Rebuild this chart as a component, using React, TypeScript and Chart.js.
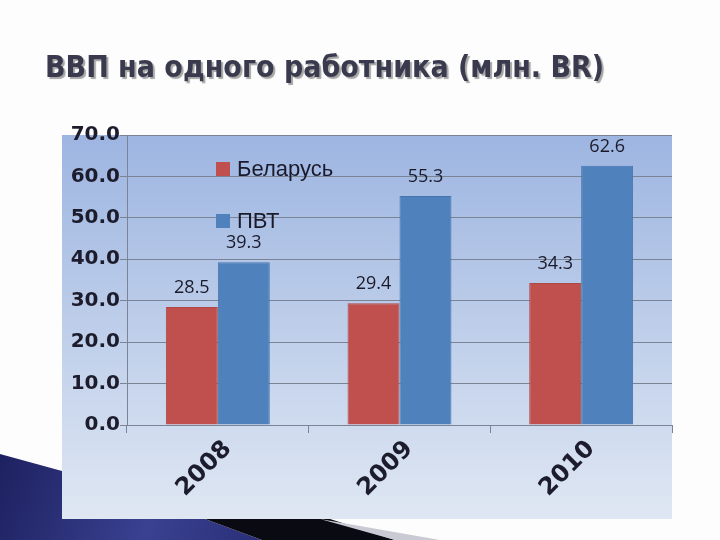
import React, { useEffect, useRef } from "react";
import { Chart, registerables } from "chart.js";

Chart.register(...registerables);

const titleText = "ВВП на одного работника (млн. BR)";
const categories = ["2008", "2009", "2010"];
const seriesNames = ["Беларусь", "ПВТ"];
const belarusValues = [28.5, 29.4, 34.3];
const pvtValues = [39.3, 55.3, 62.6];
const seriesColors = ["#C0504D", "#4F81BD"];
const yMin = 0;
const yMax = 70;
const yStep = 10;

const backgroundPlugin = {
  id: "slideBackground",
  beforeDraw(chart: any) {
    const { ctx, chartArea: a, width, height } = chart;
    ctx.save();
    ctx.fillStyle = "#FDFDFD";
    ctx.fillRect(0, 0, width, height);

    // decorative slide shapes (bottom-left)
    const navy = ctx.createLinearGradient(0, 450, 260, 540);
    navy.addColorStop(0, "#1D2160");
    navy.addColorStop(0.6, "#3A4190");
    navy.addColorStop(1, "#2A2F78");
    ctx.fillStyle = navy;
    ctx.beginPath();
    ctx.moveTo(0, 454);
    ctx.lineTo(62, 471);
    ctx.lineTo(205, 519);
    ctx.lineTo(262, 540);
    ctx.lineTo(0, 540);
    ctx.closePath();
    ctx.fill();

    ctx.fillStyle = "#0A0A12";
    ctx.beginPath();
    ctx.moveTo(150, 480);
    ctx.lineTo(330, 519);
    ctx.lineTo(395, 540);
    ctx.lineTo(262, 540);
    ctx.lineTo(205, 519);
    ctx.closePath();
    ctx.fill();

    ctx.fillStyle = "#C9CAD3";
    ctx.beginPath();
    ctx.moveTo(320, 519);
    ctx.lineTo(440, 540);
    ctx.lineTo(395, 540);
    ctx.closePath();
    ctx.fill();

    // chart box
    const boxLeft = a.left - 65;
    const boxTop = a.top;
    const boxRight = a.right;
    const boxBottom = a.bottom + 94;
    const g = ctx.createLinearGradient(0, boxTop, 0, boxBottom);
    g.addColorStop(0, "#9DB5E1");
    g.addColorStop(1, "#DFE7F3");
    ctx.fillStyle = g;
    ctx.fillRect(boxLeft, boxTop, boxRight - boxLeft, boxBottom - boxTop);
    ctx.restore();
  },
};

const labelsPlugin = {
  id: "valueLabels",
  afterDatasetsDraw(chart: any) {
    const { ctx } = chart;
    ctx.save();
    ctx.font = "18px 'Open Sans'";
    ctx.fillStyle = "#1A1A2A";
    ctx.textAlign = "center";
    ctx.textBaseline = "middle";
    chart.data.datasets.forEach((ds: any, i: number) => {
      const meta = chart.getDatasetMeta(i);
      meta.data.forEach((el: any, j: number) => {
        ctx.fillText(Number(ds.data[j]).toFixed(1), el.x, el.y - 19);
      });
    });
    ctx.restore();
  },
};

const legendPlugin = {
  id: "insideLegend",
  afterDraw(chart: any) {
    const { ctx, chartArea: a } = chart;
    ctx.save();
    ctx.font = "22px 'Liberation Sans'";
    ctx.textBaseline = "middle";
    ctx.textAlign = "left";
    chart.data.datasets.forEach((ds: any, i: number) => {
      const top = a.top + 27 + i * 52;
      ctx.fillStyle = ds.backgroundColor;
      ctx.fillRect(a.left + 89, top, 14, 14);
      ctx.fillStyle = "#1A1A2A";
      ctx.fillText(ds.label, a.left + 110, top + 8);
    });
    ctx.restore();
  },
};

export default function App() {
  const canvasRef = useRef<HTMLCanvasElement | null>(null);

  useEffect(() => {
    if (!canvasRef.current) return;
    const chart = new Chart(canvasRef.current, {
      type: "bar",
      data: {
        labels: categories,
        datasets: [
          {
            label: seriesNames[0],
            data: belarusValues,
            backgroundColor: seriesColors[0],
            borderColor: "#B04845",
            borderWidth: 1,
            categoryPercentage: 0.572,
            barPercentage: 1,
          },
          {
            label: seriesNames[1],
            data: pvtValues,
            backgroundColor: seriesColors[1],
            borderColor: "#4575AE",
            borderWidth: 1,
            categoryPercentage: 0.572,
            barPercentage: 1,
          },
        ],
      },
      options: {
        animation: false,
        responsive: false,
        maintainAspectRatio: false,
        layout: { padding: { left: 0, right: 48, top: 135, bottom: 0 } },
        plugins: {
          legend: { display: false },
          title: { display: false },
          tooltip: { enabled: false },
        },
        scales: {
          x: {
            afterFit(scale: any) {
              scale.height = 115;
            },
            grid: {
              display: true,
              drawOnChartArea: false,
              drawTicks: true,
              tickLength: 8,
              color: "#7A8494",
              offset: true,
            },
            border: { display: true, color: "#7A8494", width: 1 },
            ticks: {
              minRotation: 45,
              maxRotation: 45,
              padding: 2,
              labelOffset: 10,
              color: "#1C1C2C",
              font: { family: "'DejaVu Sans'", size: 24, weight: "bold" },
            },
          },
          y: {
            min: yMin,
            max: yMax,
            afterFit(scale: any) {
              scale.width = 127;
            },
            grid: {
              color: "#7A8494",
              tickLength: 7,
              drawTicks: true,
            },
            border: { display: true, color: "#7A8494", width: 1 },
            ticks: {
              stepSize: yStep,
              padding: 0,
              color: "#1C1C2C",
              font: { family: "'DejaVu Sans'", size: 20, weight: "bold" },
              callback: (v: any) => Number(v).toFixed(1),
            },
          },
        },
      },
      plugins: [backgroundPlugin, labelsPlugin, legendPlugin],
    });
    return () => chart.destroy();
  }, []);

  return (
    <div
      style={{
        position: "fixed",
        left: 0,
        top: 0,
        width: 720,
        height: 540,
        overflow: "hidden",
        background: "#FDFDFD",
      }}
    >
      <canvas
        ref={canvasRef}
        width={720}
        height={540}
        style={{ position: "absolute", left: 0, top: 0, width: 720, height: 540 }}
      />
      <div
        style={{
          position: "absolute",
          left: 45,
          top: 52,
          fontFamily: "'DejaVu Sans Condensed', 'DejaVu Sans'",
          fontStretch: "condensed",
          fontWeight: "bold",
          fontSize: 30,
          lineHeight: 1,
          color: "#3A3A4E",
          whiteSpace: "nowrap",
          textShadow: "2px 2px 1px rgba(0,0,0,0.35)",
        }}
      >
        {titleText}
      </div>
    </div>
  );
}
